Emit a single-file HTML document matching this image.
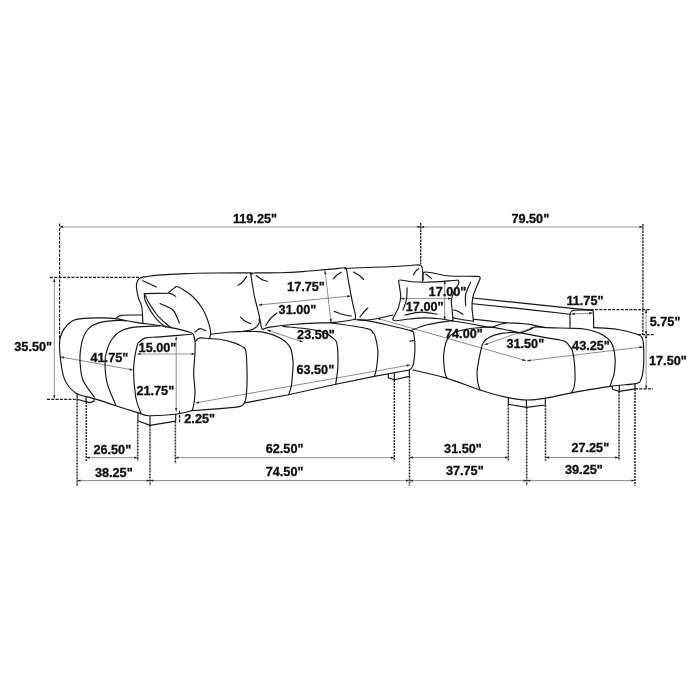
<!DOCTYPE html><html><head><meta charset="utf-8"><style>html,body{margin:0;padding:0;background:#fff}svg{display:block}text{font-family:"Liberation Sans",sans-serif;font-weight:bold;font-size:12.7px;fill:#0d0d0d;stroke:#0d0d0d;stroke-width:0.3px}</style></head><body>
<svg width="700" height="700" viewBox="0 0 700 700">
<rect width="700" height="700" fill="#fff"/>
<g fill="none" stroke="#5a5a5a" stroke-width="0.7">
<path d="M60.7 356.9 L132.9 370.0"/>
<path d="M258.6 305.0 L350.7 296.0"/>
<path d="M325.0 270.7 L331.1 322.6"/>
<path d="M267.1 330.0 L302.9 342.1"/>
<path d="M195.7 402.9 L410.0 365.0"/>
<path d="M444.7 280.7 L444.7 320.0"/>
<path d="M400.7 298.6 L451.4 298.6"/>
<path d="M377.0 318.3 L526.0 360.7"/>
<path d="M484.3 344.9 L533.7 327.4"/>
<path d="M527.0 360.8 L642.9 346.9"/>
<path d="M571.4 313.9 L592.6 313.1"/>
<path d="M86.3 457.7 L137.7 457.7"/>
<path d="M175.1 457.7 L394.3 457.7"/>
<path d="M77.1 480.6 L150.0 480.6"/>
<path d="M150.0 480.6 L409.4 480.6"/>
<path d="M409.4 457.5 L508.4 457.5"/>
<path d="M545.7 457.5 L618.6 457.5"/>
<path d="M409.4 480.6 L526.9 480.6"/>
<path d="M526.9 480.6 L634.9 480.6"/>
</g>
<g fill="none" stroke="#969696" stroke-width="1.05">
<path d="M176.2 336.4 L176.2 411.4"/>
<path d="M59.6 226.9 L420.7 226.9"/>
<path d="M420.7 226.9 L642.9 226.9"/>
<path d="M54.3 278.6 L54.3 398.6"/>
<path d="M137.1 353.9 L195.0 353.9"/>
<path d="M646.1 309.6 L646.1 334.6"/>
<path d="M646.1 334.6 L646.1 388.9"/>
</g>
<g fill="#222" stroke="none">
<path d="M132.90 370.00 L129.35 370.52 L129.76 368.26 Z"/>
<path d="M60.70 356.90 L64.25 356.38 L63.84 358.64 Z"/>
<path d="M350.70 296.00 L347.43 297.48 L347.20 295.19 Z"/>
<path d="M258.60 305.00 L261.87 303.52 L262.10 305.81 Z"/>
<path d="M331.10 322.60 L329.56 319.36 L331.85 319.09 Z"/>
<path d="M325.00 270.70 L326.54 273.94 L324.25 274.21 Z"/>
<path d="M302.90 342.10 L299.31 342.10 L300.05 339.92 Z"/>
<path d="M267.10 330.00 L270.69 330.00 L269.95 332.18 Z"/>
<path d="M410.00 365.00 L406.85 366.72 L406.45 364.46 Z"/>
<path d="M195.70 402.90 L198.85 401.18 L199.25 403.44 Z"/>
<path d="M444.70 320.00 L443.55 316.60 L445.85 316.60 Z"/>
<path d="M444.70 280.70 L445.85 284.10 L443.55 284.10 Z"/>
<path d="M451.40 298.60 L448.00 299.75 L448.00 297.45 Z"/>
<path d="M400.70 298.60 L404.10 297.45 L404.10 299.75 Z"/>
<path d="M526.00 360.70 L522.42 360.88 L523.04 358.66 Z"/>
<path d="M377.00 318.30 L380.58 318.12 L379.96 320.34 Z"/>
<path d="M533.70 327.40 L530.88 329.62 L530.11 327.45 Z"/>
<path d="M484.30 344.90 L487.12 342.68 L487.89 344.85 Z"/>
<path d="M642.90 346.90 L639.66 348.45 L639.39 346.16 Z"/>
<path d="M527.00 360.80 L530.24 359.25 L530.51 361.54 Z"/>
<path d="M592.60 313.10 L589.25 314.38 L589.16 312.08 Z"/>
<path d="M571.40 313.90 L574.75 312.62 L574.84 314.92 Z"/>
<path d="M137.70 457.70 L134.30 458.85 L134.30 456.55 Z"/>
<path d="M86.30 457.70 L89.70 456.55 L89.70 458.85 Z"/>
<path d="M394.30 457.70 L390.90 458.85 L390.90 456.55 Z"/>
<path d="M175.10 457.70 L178.50 456.55 L178.50 458.85 Z"/>
<path d="M150.00 480.60 L146.60 481.75 L146.60 479.45 Z"/>
<path d="M77.10 480.60 L80.50 479.45 L80.50 481.75 Z"/>
<path d="M409.40 480.60 L406.00 481.75 L406.00 479.45 Z"/>
<path d="M150.00 480.60 L153.40 479.45 L153.40 481.75 Z"/>
<path d="M508.40 457.50 L505.00 458.65 L505.00 456.35 Z"/>
<path d="M409.40 457.50 L412.80 456.35 L412.80 458.65 Z"/>
<path d="M618.60 457.50 L615.20 458.65 L615.20 456.35 Z"/>
<path d="M545.70 457.50 L549.10 456.35 L549.10 458.65 Z"/>
<path d="M526.90 480.60 L523.50 481.75 L523.50 479.45 Z"/>
<path d="M409.40 480.60 L412.80 479.45 L412.80 481.75 Z"/>
<path d="M634.90 480.60 L631.50 481.75 L631.50 479.45 Z"/>
<path d="M526.90 480.60 L530.30 479.45 L530.30 481.75 Z"/>
<path d="M176.20 411.40 L175.05 408.00 L177.35 408.00 Z"/>
<path d="M176.20 336.40 L177.35 339.80 L175.05 339.80 Z"/>
<path d="M420.70 226.90 L417.30 228.05 L417.30 225.75 Z"/>
<path d="M59.60 226.90 L63.00 225.75 L63.00 228.05 Z"/>
<path d="M642.90 226.90 L639.50 228.05 L639.50 225.75 Z"/>
<path d="M420.70 226.90 L424.10 225.75 L424.10 228.05 Z"/>
<path d="M54.30 398.60 L53.15 395.20 L55.45 395.20 Z"/>
<path d="M54.30 278.60 L55.45 282.00 L53.15 282.00 Z"/>
<path d="M195.00 353.90 L191.60 355.05 L191.60 352.75 Z"/>
<path d="M137.10 353.90 L140.50 352.75 L140.50 355.05 Z"/>
<path d="M646.10 334.60 L644.95 331.20 L647.25 331.20 Z"/>
<path d="M646.10 309.60 L647.25 313.00 L644.95 313.00 Z"/>
<path d="M646.10 388.90 L644.95 385.50 L647.25 385.50 Z"/>
<path d="M646.10 334.60 L647.25 338.00 L644.95 338.00 Z"/>
</g>
<g fill="none" stroke="#1a1a1a" stroke-width="1.15" stroke-dasharray="3 1.3">
<path d="M50.0 277.4 L140.0 277.4"/>
<path d="M47.0 399.3 L77.0 399.3"/>
<path d="M590.7 309.6 L650.7 309.6"/>
<path d="M637.9 334.6 L654.3 334.6"/>
<path d="M635.0 388.9 L652.9 388.9"/>
<path d="M179.6 410.7 L179.6 422.9"/>
<path d="M59.6 223.6 L59.6 338.6"/>
</g>
<g fill="none" stroke="#2a2a2a" stroke-width="1.5" stroke-dasharray="2.1 0.9">
<path d="M77.1 399.5 L77.1 485.7"/>
<path d="M86.3 402.0 L86.3 460.9"/>
<path d="M137.7 421.4 L137.7 460.9"/>
<path d="M150.0 425.5 L150.0 485.7"/>
<path d="M175.4 421.4 L175.4 463.7"/>
<path d="M394.3 380.0 L394.3 461.4"/>
<path d="M409.5 376.5 L409.5 485.7"/>
<path d="M508.3 404.5 L508.3 460.7"/>
<path d="M526.7 407.5 L526.7 485.7"/>
<path d="M545.5 405.2 L545.5 460.7"/>
<path d="M619.0 391.5 L619.0 460.7"/>
<path d="M635.0 389.0 L635.0 485.7"/>
</g>
<g fill="none" stroke="#1a1a1a" stroke-width="1.3" stroke-dasharray="2.4 0.9">
<path d="M420.7 223.0 L420.7 264.5"/>
<path d="M642.9 224.0 L642.9 335.0"/>
</g>
<g fill="none" stroke="#151515" stroke-width="1.15" stroke-linecap="round" stroke-linejoin="round">
<path d="M140.7 413.6 C136.5 412.3 123.4 408.2 115.7 405.7 C108.0 403.2 101.0 400.7 94.3 398.6 C87.6 396.5 80.7 396.2 75.7 392.9 C70.7 389.6 66.9 385.0 64.3 378.6 C61.7 372.2 60.7 361.0 60.0 354.3 C59.3 347.6 59.3 342.9 60.0 338.6 C60.7 334.3 62.4 331.5 64.3 328.6 C66.2 325.7 68.6 323.1 71.4 321.4 C74.2 319.7 76.2 319.2 81.4 318.6 C86.7 318.0 97.0 317.8 102.9 317.9 C108.9 317.9 111.9 318.2 117.1 318.9 C122.3 319.6 126.4 320.9 134.3 322.1 C142.2 323.4 155.0 324.7 164.3 326.4 C173.6 328.1 185.1 330.7 190.0 332.3 C194.9 333.9 193.0 334.5 193.8 336.0 C194.6 337.5 194.8 338.6 195.0 341.4 C195.2 344.2 195.2 347.8 195.0 353.0 C194.8 358.2 193.7 366.5 193.7 372.9 C193.7 379.3 194.9 386.5 195.0 391.4 C195.1 396.2 194.6 398.8 194.2 402.0 C193.8 405.2 192.6 409.1 192.3 410.5"/>
<path d="M115.7 318.6 C116.7 318.1 117.1 316.0 121.4 315.4 C125.7 314.8 138.1 315.1 141.4 315.0"/>
<path d="M94.3 397.0 C92.4 394.2 85.3 385.9 82.9 380.0 C80.5 374.1 80.4 366.4 80.0 361.4 C79.6 356.4 80.0 353.8 80.5 350.0 C81.0 346.2 81.6 342.2 82.9 338.6 C84.2 335.0 86.0 331.2 88.6 328.6 C91.2 326.0 93.8 324.3 98.6 322.9 C103.3 321.5 112.5 320.7 117.1 320.4 C121.7 320.1 124.5 320.8 126.0 320.9"/>
<path d="M115.7 405.0 C114.3 401.3 108.9 390.2 107.1 382.9 C105.3 375.6 105.0 366.9 105.0 361.4 C105.0 355.9 106.0 353.6 107.1 350.0 C108.2 346.4 109.2 343.1 111.4 340.0 C113.6 336.9 116.2 333.5 120.0 331.4 C123.8 329.2 127.6 328.0 134.3 327.1 C141.0 326.2 155.7 326.1 160.0 325.9"/>
<path d="M140.7 412.9 C139.9 410.2 136.9 404.4 135.7 397.0 C134.5 389.6 133.4 377.2 133.6 368.6 C133.8 360.1 136.0 350.2 137.1 345.7 C138.2 341.2 138.6 342.7 140.0 341.4 C141.4 340.1 142.4 338.6 145.7 337.9 C149.0 337.1 152.4 337.5 160.0 336.9 C167.6 336.3 186.2 334.7 191.4 334.3"/>
<path d="M140.7 413.6 C142.0 414.0 142.8 415.6 148.6 415.7 C154.4 415.8 168.6 415.1 175.7 414.3 C182.8 413.5 188.8 411.3 191.4 410.7"/>
<path d="M142.9 322.5 C142.7 319.9 142.5 311.0 141.8 307.0 C141.1 303.0 139.5 301.9 138.6 298.6 C137.7 295.3 136.6 289.9 136.4 287.0 C136.2 284.1 136.8 282.5 137.5 281.0 C138.2 279.5 139.1 278.5 140.5 277.8 C141.9 277.1 143.1 277.1 146.0 276.6 C148.9 276.2 151.3 275.6 157.9 275.1 C164.5 274.6 176.4 274.0 185.7 273.6 C195.0 273.2 203.0 273.1 213.6 273.0 C224.2 272.9 243.1 272.7 249.3 272.9 C255.5 273.1 250.6 274.1 250.8 274.3"/>
<path d="M210.7 334.3 C213.9 333.9 224.6 332.5 230.0 332.0 C235.4 331.5 239.1 331.8 242.9 331.4 C246.7 330.9 250.3 330.5 252.9 329.3 C255.5 328.1 257.5 326.1 258.6 324.3 C259.7 322.5 259.2 319.6 259.3 318.6"/>
<path d="M246.7 276.3 C246.1 277.2 244.3 280.1 242.9 281.6 C241.5 283.1 238.9 284.7 238.1 285.3"/>
<path d="M240.7 317.1 C241.4 317.8 243.3 319.9 245.0 321.0 C246.7 322.1 249.8 323.2 250.7 323.6"/>
<path d="M250.8 274.3 C251.4 277.9 253.0 289.3 254.3 295.7 C255.6 302.1 257.4 307.7 258.6 312.9 C259.8 318.1 260.7 324.4 261.4 327.1 C262.1 329.8 262.6 328.9 262.9 329.3"/>
<path d="M250.8 274.3 C251.1 274.1 251.6 273.4 252.5 273.2 C253.4 273.0 251.4 273.0 256.0 272.9 C260.6 272.8 272.2 272.9 280.0 272.7 C287.8 272.5 295.3 272.1 302.9 271.6 C310.5 271.1 318.8 270.2 325.7 269.6 C332.6 269.0 340.7 268.1 344.0 267.8 C347.3 267.6 345.3 267.9 345.7 268.1 C346.1 268.3 346.3 268.7 346.4 268.8"/>
<path d="M256.1 275.4 C257.0 276.1 259.8 278.4 261.7 279.4 C263.6 280.4 266.4 281.0 267.3 281.3"/>
<path d="M277.1 312.9 C276.0 313.8 272.4 316.4 270.5 318.5 C268.6 320.6 266.5 324.5 265.7 325.7"/>
<path d="M262.9 329.3 C264.1 328.9 264.6 327.9 270.0 327.1 C275.4 326.3 286.7 325.0 295.0 324.3 C303.3 323.6 313.9 323.2 320.0 322.9 C326.1 322.6 325.9 323.1 331.4 322.6 C336.9 322.1 348.9 320.6 352.9 319.7 C356.9 318.8 355.0 318.2 355.4 317.1 C355.8 316.0 355.4 315.0 355.0 312.9 C354.6 310.8 353.8 308.8 352.9 304.3 C351.9 299.8 350.4 291.6 349.3 285.7 C348.2 279.8 346.9 271.5 346.4 268.6"/>
<path d="M341.4 272.1 C340.7 272.6 338.3 273.9 337.0 275.0 C335.7 276.1 334.2 278.0 333.6 278.6"/>
<path d="M334.3 311.4 C335.6 311.9 339.1 313.4 342.0 314.2 C344.9 315.0 349.8 315.7 351.4 316.0"/>
<path d="M346.4 268.8 C346.8 268.7 341.2 268.6 348.5 268.2 C355.8 267.8 379.8 267.1 390.0 266.7 C400.2 266.2 405.3 265.8 410.0 265.5 C414.7 265.2 416.4 264.8 418.2 264.8 C420.0 264.8 420.1 264.9 420.8 265.4 C421.5 265.9 421.9 266.4 422.2 267.8 C422.5 269.2 422.8 271.8 422.9 274.0 C423.0 276.2 422.7 279.8 422.6 281.0"/>
<path d="M353.6 272.1 C354.5 272.6 357.3 274.1 359.0 275.3 C360.7 276.5 362.8 278.6 363.6 279.3"/>
<path d="M367.9 307.9 C367.2 308.7 364.8 311.0 363.5 312.5 C362.2 314.0 360.6 316.2 360.0 316.9"/>
<path d="M355.4 319.7 C357.3 319.8 363.0 320.3 367.1 320.0 C371.2 319.7 375.7 318.8 380.0 318.0 C384.3 317.2 390.8 315.5 392.9 315.0"/>
<path d="M418.6 268.6 C418.1 269.1 416.3 270.4 415.5 271.5 C414.7 272.6 413.9 274.4 413.6 275.0"/>
<path d="M165.7 327.1 C164.5 326.2 160.7 323.4 158.6 321.4 C156.5 319.4 155.0 317.4 153.3 315.0 C151.6 312.6 149.8 309.6 148.4 307.1 C147.0 304.6 145.7 302.2 145.0 300.0 C144.3 297.8 144.4 294.7 144.3 293.6"/>
<path d="M175.0 287.4 C175.2 287.2 175.9 286.6 176.5 286.5 C177.1 286.4 177.3 286.5 178.6 287.1 C179.8 287.7 182.1 289.0 184.0 290.2 C185.9 291.4 188.0 292.7 190.0 294.3 C192.0 295.9 194.1 297.9 196.0 300.0 C197.9 302.1 199.8 304.6 201.4 307.0 C203.0 309.4 204.3 311.9 205.5 314.5 C206.7 317.1 207.8 320.5 208.6 322.9 C209.4 325.3 209.8 327.1 210.2 329.0 C210.5 330.9 210.8 332.7 210.7 334.3 C210.5 335.9 209.5 337.9 209.3 338.6"/>
<path d="M145.2 295.0 C145.6 296.0 146.7 299.0 147.8 301.0 C148.9 303.0 150.2 305.0 151.6 307.1 C153.0 309.2 154.6 311.6 156.0 313.5 C157.4 315.4 158.6 316.8 160.2 318.4 C161.8 320.0 163.6 321.6 165.5 323.2 C167.4 324.8 170.4 327.1 171.4 327.9"/>
<path d="M160.0 303.6 C162.2 304.7 169.7 306.8 172.9 310.0 C176.1 313.2 178.2 320.8 179.3 322.9"/>
<path d="M168.6 293.1 C169.2 293.3 171.3 293.8 172.5 294.3 C173.7 294.9 175.2 296.0 175.7 296.4"/>
<path d="M195.0 332.1 C195.8 331.5 198.2 328.8 200.0 328.6 C201.8 328.4 204.8 330.4 205.7 330.7"/>
<path d="M195.7 341.4 C196.0 341.0 196.6 339.6 197.5 339.0 C198.4 338.4 199.4 338.0 201.4 337.9 C203.4 337.8 206.2 338.4 209.3 338.6 C212.4 338.8 215.8 338.6 220.0 339.3 C224.2 340.0 230.5 341.6 234.3 342.9 C238.1 344.2 241.0 345.6 242.9 347.1 C244.8 348.6 245.3 347.2 246.0 352.0 C246.7 356.8 247.0 368.6 247.1 375.7 C247.2 382.8 246.8 390.0 246.4 394.3 C246.1 398.6 246.1 399.4 245.0 401.4 C243.9 403.4 244.2 405.2 240.0 406.4 C235.8 407.6 228.1 407.9 220.0 408.6 C211.9 409.3 196.2 410.4 191.4 410.7"/>
<path d="M242.9 331.4 C246.2 331.5 256.7 331.0 262.9 332.1 C269.1 333.2 275.5 335.4 280.0 337.9 C284.5 340.4 287.9 343.4 290.0 347.1 C292.1 350.8 292.4 356.4 292.9 360.0 C293.4 363.6 293.1 364.3 292.9 368.6 C292.6 372.9 292.1 381.4 291.4 385.7 C290.7 390.0 289.1 393.2 288.6 394.7"/>
<path d="M282.9 326.4 C287.4 326.9 303.1 328.2 310.0 329.3 C316.9 330.4 320.4 331.3 324.3 332.9 C328.2 334.4 331.5 336.7 333.6 338.6 C335.7 340.5 336.4 339.8 337.1 344.3 C337.8 348.8 338.1 359.0 337.9 365.7 C337.7 372.4 336.1 381.2 335.7 384.3"/>
<path d="M331.4 322.9 C337.3 323.8 360.2 326.9 367.1 328.6 C374.0 330.3 371.6 331.7 372.9 332.9 C374.2 334.1 374.2 332.6 375.0 335.7 C375.8 338.8 377.7 345.9 377.9 351.4 C378.1 356.9 377.0 364.4 376.4 368.6 C375.8 372.8 374.6 375.1 374.3 376.4"/>
<path d="M358.0 319.9 C359.2 320.0 360.3 319.6 365.0 320.4 C369.7 321.2 378.8 323.0 386.4 324.7 C394.0 326.4 405.8 329.0 410.4 330.7 C415.0 332.4 413.1 331.8 413.9 335.0 C414.6 338.2 415.1 344.9 414.9 350.0 C414.7 355.1 413.8 362.4 412.9 365.7 C412.0 369.0 409.9 369.3 409.3 370.0"/>
<path d="M425.0 282.2 C422.5 282.1 414.1 281.9 410.0 281.5 C405.9 281.1 402.4 280.1 400.5 280.0 C398.6 279.9 399.1 280.1 398.8 280.6 C398.5 281.1 398.6 280.3 398.9 283.0 C399.2 285.7 400.8 293.0 400.7 297.0 C400.6 301.0 399.6 304.0 398.6 307.1 C397.6 310.2 395.5 313.6 394.5 315.5 C393.5 317.4 393.0 318.0 392.8 318.8 C392.6 319.6 393.0 320.0 393.5 320.3 C394.0 320.6 392.9 320.9 395.7 320.7 C398.4 320.5 405.0 319.5 410.0 319.0 C415.0 318.5 420.7 317.9 425.7 317.9 C430.7 317.9 435.7 318.4 440.0 318.8 C444.3 319.2 449.4 320.4 451.5 320.6 C453.6 320.8 452.8 321.8 452.9 320.0 C453.0 318.2 452.4 313.3 452.2 310.0 C451.9 306.7 451.0 303.2 451.4 300.0 C451.8 296.8 453.3 293.7 454.5 291.0 C455.7 288.3 457.9 285.4 458.6 283.8 C459.3 282.2 459.1 281.8 458.7 281.2 C458.3 280.6 459.6 280.1 456.5 280.2 C453.4 280.3 445.2 281.3 440.0 281.6 C434.8 281.9 427.5 282.1 425.0 282.2"/>
<path d="M407.1 287.9 C407.0 289.9 407.1 296.3 406.4 300.0 C405.7 303.7 403.5 308.3 402.9 310.0"/>
<path d="M405.0 315.0 C407.7 314.5 416.0 312.2 421.4 312.1 C426.8 312.0 434.5 313.9 437.1 314.3"/>
<path d="M423.1 280.0 C423.4 278.7 421.0 272.8 425.0 272.1 C429.0 271.4 438.6 275.0 447.1 275.7 C455.6 276.4 470.6 276.2 476.0 276.4 C481.4 276.6 478.9 276.4 479.6 276.8 C480.3 277.2 480.5 277.1 480.0 278.8 C479.5 280.5 477.7 283.9 476.5 287.0 C475.3 290.1 473.6 293.6 472.9 297.1 C472.1 300.6 471.9 304.2 472.0 308.0 C472.1 311.8 473.3 317.4 473.2 319.6 C473.1 321.8 474.9 321.3 471.5 321.0 C468.1 320.7 456.0 318.4 452.9 317.9"/>
<path d="M425.7 274.3 C426.2 274.6 427.6 275.3 428.5 276.0 C429.4 276.7 430.9 278.2 431.4 278.6"/>
<path d="M470.7 282.1 C469.9 284.1 466.5 290.4 465.7 294.3 C464.9 298.2 465.7 303.8 465.7 305.7"/>
<path d="M453.6 310.0 C454.4 310.2 456.9 310.8 458.5 311.5 C460.1 312.2 462.2 313.8 462.9 314.3"/>
<path d="M570.0 328.2 C570.0 327.0 570.0 323.3 570.0 321.0 C570.0 318.7 569.8 315.9 570.0 314.3 C570.2 312.7 570.6 312.1 571.4 311.4 C572.2 310.7 571.6 310.5 574.9 310.3 C578.1 310.1 587.9 309.9 590.9 310.1 C593.9 310.3 592.6 309.8 593.1 311.4 C593.6 313.0 593.5 317.3 593.6 320.0 C593.7 322.7 593.7 326.3 593.7 327.6"/>
<path d="M410.4 330.7 C413.2 329.7 421.0 326.4 427.1 324.8 C433.2 323.2 442.8 322.0 447.1 321.4 C451.4 320.8 448.6 320.5 452.9 321.0 C457.2 321.5 467.3 323.3 472.9 324.3 C478.5 325.3 483.2 326.4 486.6 326.9 C490.0 327.4 490.0 326.9 493.4 327.4 C496.8 327.9 502.5 329.1 507.1 330.0 C511.7 330.9 514.9 331.7 520.9 332.9 C526.9 334.1 536.4 335.9 542.9 337.1 C549.4 338.3 556.2 339.2 560.0 340.0 C563.8 340.8 564.2 340.8 565.7 341.7 C567.2 342.6 568.0 344.3 569.1 345.7 C570.2 347.1 571.2 347.4 572.1 350.0 C573.0 352.6 573.8 356.4 574.3 361.4 C574.8 366.4 575.1 375.5 575.0 380.0 C574.9 384.5 574.2 386.5 573.6 388.6 C573.0 390.7 571.8 391.9 571.4 392.5"/>
<path d="M473.4 319.3 C476.0 319.6 483.3 320.3 488.9 320.9 C494.5 321.5 501.9 322.4 507.1 322.8 C512.3 323.2 516.0 323.1 520.0 323.4 C524.0 323.7 527.4 323.9 531.4 324.6 C535.4 325.3 537.6 326.8 544.0 327.4 C550.4 328.0 563.0 327.9 570.0 328.2 C577.0 328.5 580.5 328.3 585.7 329.3 C590.9 330.3 597.1 332.0 601.4 334.3 C605.7 336.6 609.1 339.1 611.4 342.9 C613.7 346.7 614.5 352.1 615.0 357.1 C615.5 362.1 614.8 369.1 614.3 372.9 C613.8 376.7 612.8 377.8 612.1 380.0 C611.4 382.2 610.4 385.3 610.0 386.4"/>
<path d="M593.7 327.6 C597.6 327.9 609.9 328.2 617.1 329.3 C624.3 330.4 632.9 332.9 637.1 334.3 C641.3 335.7 641.0 335.8 642.1 337.9 C643.2 340.0 643.4 342.0 643.6 347.1 C643.8 352.2 643.8 363.1 643.3 368.6 C642.8 374.1 642.0 377.5 640.7 380.0 C639.4 382.5 640.8 382.5 635.7 383.6 C630.6 384.7 620.7 384.8 610.0 386.4 C599.3 387.9 581.9 391.0 571.4 392.9 C560.9 394.8 554.5 396.7 547.1 397.9 C539.7 399.1 534.0 400.1 527.1 400.0 C520.2 399.9 513.5 398.8 505.7 397.1 C497.8 395.4 490.0 393.2 480.0 390.0 C470.0 386.8 456.9 381.2 445.7 377.9 C434.5 374.6 418.4 371.3 412.9 370.0"/>
<path d="M544.0 327.4 C542.7 327.3 538.1 326.7 536.0 326.9 C533.9 327.1 533.9 327.6 531.4 328.6 C528.9 329.6 523.8 332.1 520.9 332.7 C518.0 333.3 517.2 332.2 514.0 332.3 C510.8 332.4 505.6 332.5 501.4 333.4 C497.2 334.2 491.9 335.8 488.9 337.4 C485.8 339.0 484.6 340.3 483.1 343.1 C481.6 345.9 481.0 349.6 480.0 354.3 C479.0 359.0 477.5 366.6 477.1 371.4 C476.8 376.2 477.4 379.8 477.9 382.9 C478.4 386.0 479.6 388.8 480.0 390.0"/>
<path d="M507.1 322.8 C506.0 323.1 502.8 323.6 500.3 324.3 C497.8 325.0 495.0 326.6 492.3 327.1 C489.6 327.6 487.2 327.1 484.0 327.3 C480.8 327.5 476.4 327.9 472.9 328.3 C469.4 328.8 465.9 329.4 463.0 330.0 C460.1 330.6 457.6 331.3 455.7 332.1 C453.8 332.9 452.6 333.7 451.5 334.6 C450.4 335.5 449.7 336.2 448.9 337.3 C448.1 338.4 447.1 339.7 446.5 341.0 C445.9 342.3 445.6 343.2 445.2 345.0 C444.8 346.8 444.3 349.5 444.0 352.0 C443.7 354.5 443.4 356.5 443.6 360.0 C443.8 363.5 444.4 369.8 445.0 372.9 C445.6 375.9 446.8 377.4 447.1 378.3"/>
<path d="M77.1 394.0 L77.1 399.3 L89.3 402.6 L94.0 401.4 L94.0 399.0"/>
<path d="M86.0 396.5 L86.0 401.7"/>
<path d="M137.9 413.0 L137.9 420.7 L150.0 425.4 L175.7 421.1 L175.7 414.3"/>
<path d="M150.0 416.0 L150.0 425.4"/>
<path d="M142.9 280.7 L156.4 287.1"/>
<path d="M144.3 293.6 L167.9 293.1 L175.0 287.4"/>
<path d="M245.0 402.9 L288.6 394.7 L335.7 384.3 L374.3 376.4 L409.3 370.0"/>
<path d="M410.0 341.1 L413.6 340.7"/>
<path d="M388.3 374.2 L388.3 377.9 L394.3 379.7 L409.3 376.4 L409.3 370.0"/>
<path d="M394.3 373.5 L394.3 379.7"/>
<path d="M472.9 298.0 L520.0 302.9 L574.9 308.6 L590.9 310.1"/>
<path d="M472.5 303.7 L520.0 308.6 L570.3 314.3"/>
<path d="M508.3 397.8 L508.3 404.3 L526.4 407.4 L545.3 405.0 L545.3 398.3"/>
<path d="M526.4 400.0 L526.4 407.4"/>
<path d="M612.1 386.3 L612.6 389.3 L619.3 391.4 L635.0 388.9 L635.0 383.8"/>
<path d="M619.3 385.5 L619.3 391.4"/>
</g>
<g style="filter:grayscale(1)">
<text x="232.9" y="223.3">119.25&quot;</text>
<text x="511.4" y="223.3">79.50&quot;</text>
<text x="14.3" y="350.7">35.50&quot;</text>
<text x="90.5" y="361.9">41.75&quot;</text>
<text x="138.6" y="351.7">15.00&quot;</text>
<text x="136.4" y="394.7">21.75&quot;</text>
<text x="184.3" y="423.1">2.25&quot;</text>
<text x="287.1" y="291.1">17.75&quot;</text>
<text x="278.6" y="314.4">31.00&quot;</text>
<text x="297.1" y="339.0">23.50&quot;</text>
<text x="296.4" y="374.3">63.50&quot;</text>
<text x="428.6" y="296.3">17.00&quot;</text>
<text x="405.8" y="311.2">17.00&quot;</text>
<text x="445.0" y="338.3">74.00&quot;</text>
<text x="506.4" y="347.5">31.50&quot;</text>
<text x="572.1" y="350.1">43.25&quot;</text>
<text x="566.4" y="305.4">11.75&quot;</text>
<text x="649.7" y="325.8">5.75&quot;</text>
<text x="649.0" y="365.4">17.50&quot;</text>
<text x="93.4" y="453.8">26.50&quot;</text>
<text x="94.9" y="477.0">38.25&quot;</text>
<text x="265.7" y="453.3">62.50&quot;</text>
<text x="265.7" y="476.1">74.50&quot;</text>
<text x="444.1" y="452.5">31.50&quot;</text>
<text x="445.9" y="475.3">37.75&quot;</text>
<text x="571.4" y="452.4">27.25&quot;</text>
<text x="565.0" y="474.4">39.25&quot;</text>
</g>
</svg></body></html>
